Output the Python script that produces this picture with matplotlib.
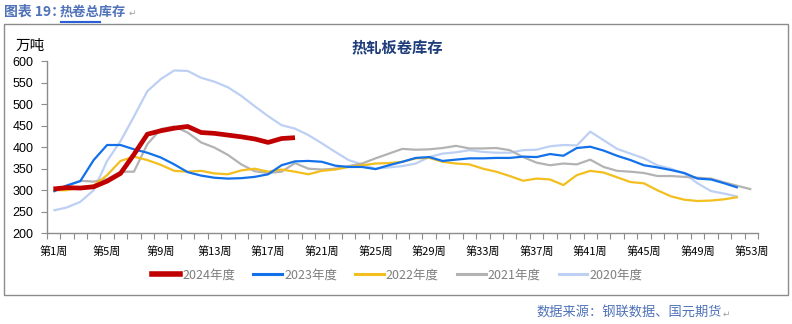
import numpy as np
import matplotlib
matplotlib.use('Agg')
import matplotlib.pyplot as plt
from matplotlib.lines import Line2D
from matplotlib.patches import Rectangle

#-------------------------------------------------------------------------
# data (weekly inventory, 10k tonnes)
years = ['2024年度', '2023年度', '2022年度', '2021年度', '2020年度']

w2024 = [303, 306, 305, 308, 321, 339, 383, 430, 438, 444, 448, 434, 432, 428, 424,
         419, 411, 420, 422]

w2023 = [297, 311, 321, 370, 405, 405, 395, 387, 376, 360, 342, 334, 329, 327, 328,
         331, 337, 358, 367, 368, 366, 357, 354, 354, 349, 358, 366, 375, 377,
         368, 371, 374, 374, 375, 375, 378, 377, 384, 380, 398, 401, 392, 380,
         370, 358, 353, 347, 340, 327, 325, 316, 306]

w2022 = [300, 300, 306, 311, 335, 368, 378, 370, 359, 345, 343, 345, 339, 337, 346,
         350, 343, 348, 343, 337, 345, 348, 354, 358, 362, 363, 366, 374, 375,
         366, 362, 360, 350, 343, 333, 322, 327, 325, 312, 335, 345, 341, 330,
         319, 316, 300, 286, 278, 275, 276, 279, 284]

w2021 = [297, 310, 322, 320, 326, 343, 343, 407, 442, 448, 434, 411, 399, 382, 360,
         344, 340, 343, 363, 350, 348, 350, 356, 362, 374, 385, 396, 394, 395,
         398, 403, 397, 397, 398, 393, 377, 364, 358, 362, 360, 371, 354, 345,
         343, 340, 333, 333, 331, 329, 327, 318, 310, 302]

w2020 = [253, 260, 273, 300, 368, 414, 471, 530, 558, 578, 577, 561, 552, 539, 519,
         495, 472, 451, 443, 428, 409, 389, 370, 360, 350, 353, 356, 362, 377,
         385, 388, 393, 389, 387, 387, 393, 394, 402, 405, 404, 436, 416, 396,
         385, 374, 358, 350, 339, 316, 298, 292, 285]

week_labels = ['第%d周' % w for w in range(1, 54, 4)]
yticks = list(range(200, 601, 50))

#-------------------------------------------------------------------------
W, H = 792, 324
cjk = ['Noto Sans CJK SC', 'DejaVu Sans']
plt.rcParams['font.family'] = cjk

def fx(x):
  return x / W

def fy(y):
  return 1 - y / H

fig = plt.figure(figsize=(W / 100, H / 100), dpi=100)

# frame around the chart
fig.patches.append(Rectangle((fx(4), fy(295)), fx(788) - fx(4), fy(24) - fy(295),
                             transform=fig.transFigure, fill=False,
                             edgecolor='#8c8c8c', linewidth=1.0))

ax = fig.add_axes([fx(46.7), fy(233.3), fx(758) - fx(46.7), fy(61) - fy(233.3)])

series = [
  (w2020, '#bdd0f4', 1.6),
  (w2021, '#b3b3b3', 1.6),
  (w2022, '#f2bf1e', 1.6),
  (w2023, '#1271ea', 1.6),
  (w2024, '#c00000', 3.4),
]
for vals, color, lw in series:
  x = np.arange(1, len(vals) + 1)
  ax.plot(x, vals, color=color, linewidth=lw, solid_joinstyle='round',
          solid_capstyle='butt')

ax.set_xlim(0.5, 53.5)
ax.set_ylim(200, 600)

for s in ['top', 'right']:
  ax.spines[s].set_visible(False)
for s in ['left', 'bottom']:
  ax.spines[s].set_color('#8c8c8c')
  ax.spines[s].set_linewidth(1.0)

ax.set_yticks(yticks)
ax.set_yticklabels([str(v) for v in yticks], family='Liberation Sans', fontsize=9)
ax.tick_params(axis='y', direction='out', length=4, width=0.8, color='#8c8c8c',
               pad=5.5, labelcolor='#000000')

ax.set_xticks(np.arange(1, 54, 4))
ax.set_xticklabels(week_labels, fontsize=8)
ax.set_xticks(np.arange(0.5, 54, 1), minor=True)
ax.tick_params(axis='x', which='major', length=0, pad=9, labelcolor='#000000')
ax.tick_params(axis='x', which='minor', direction='out', length=4, width=0.8,
               color='#8c8c8c')

# legend
handles = []
for (vals, color, lw), name in zip(series[::-1], years):
  handles.append(Line2D([], [], color=color, linewidth=lw + 0.6 if lw > 2 else 2.2,
                        label=name))
leg = fig.legend(handles=handles, loc='center', ncol=5,
                 bbox_to_anchor=(fx(397), fy(275)), frameon=False,
                 fontsize=9, handlelength=2.3, handletextpad=0.15,
                 columnspacing=1.45, borderaxespad=0)
for t in leg.get_texts():
  t.set_color('#7f7f7f')

# texts
fig.text(fx(16), fy(46), '万吨', fontsize=10.5, va='center', ha='left', color='#000000')
fig.text(fx(397), fy(47), '热轧板卷库存', fontsize=11, fontweight='bold',
         va='center', ha='center', color='#1f3d7a')

fig.text(fx(4), fy(12), '图表 19：', fontsize=10, fontweight='bold',
         va='center', ha='left', color='#4f72b8')
fig.text(fx(60), fy(12), '热卷总库存', fontsize=9.5, fontweight='bold',
         va='center', ha='left', color='#4f72b8')
fig.text(fx(129), fy(13), '↵', fontsize=6.5, va='center', ha='left',
         color='#a0a0a0', family='DejaVu Sans')
for yy in (20.6, 22.4):
  fig.lines.append(Line2D([fx(60), fx(100)], [fy(yy), fy(yy)],
                          transform=fig.transFigure, color='#2a5fd6', linewidth=0.8))

fig.text(fx(536), fy(313), '数据来源：钢联数据、国元期货', fontsize=9.5,
         va='center', ha='left', color='#4f72b8')
fig.text(fx(723), fy(314), '↵', fontsize=6.5, va='center', ha='left',
         color='#a0a0a0', family='DejaVu Sans')

fig.savefig('out.png', dpi=100)
